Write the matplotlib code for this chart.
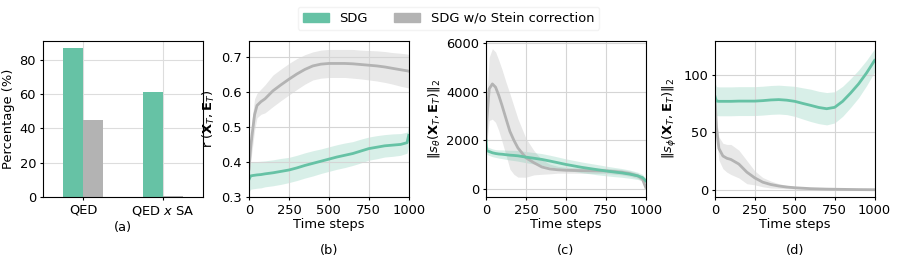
import numpy as np
import matplotlib
matplotlib.use('Agg')
import matplotlib.pyplot as plt
from matplotlib.patches import Patch

green = '#66c2a5'
gray = '#b3b3b3'

# (a) bar chart
tasks = ['QED', 'QED $x$ SA']
pct_sdg = [87, 61]
pct_nostein = [45, 0.8]

# (b) r(X_T, E_T)
t_b = [0, 10, 20, 35, 50, 75, 100, 150, 200, 250, 300, 350, 400, 450, 500, 550, 600, 650, 700, 750, 800, 850, 900, 950, 990, 1000]
b_sdg = [0.350, 0.360, 0.361, 0.362, 0.363, 0.364, 0.366, 0.369, 0.373, 0.377, 0.383, 0.390, 0.396, 0.402, 0.408, 0.414, 0.419, 0.424, 0.431, 0.438, 0.442, 0.446, 0.448, 0.450, 0.455, 0.476]
b_sdg_sd = [0.035, 0.038, 0.038, 0.038, 0.038, 0.038, 0.037, 0.037, 0.037, 0.036, 0.036, 0.036, 0.036, 0.035, 0.035, 0.035, 0.035, 0.034, 0.034, 0.033, 0.033, 0.032, 0.032, 0.031, 0.030, 0.028]
b_ns = [0.380, 0.440, 0.480, 0.535, 0.561, 0.572, 0.580, 0.603, 0.620, 0.636, 0.651, 0.664, 0.674, 0.679, 0.681, 0.681, 0.681, 0.680, 0.678, 0.676, 0.674, 0.671, 0.667, 0.663, 0.660, 0.659]
b_ns_sd = [0.020, 0.040, 0.045, 0.045, 0.035, 0.036, 0.040, 0.045, 0.045, 0.045, 0.044, 0.042, 0.040, 0.040, 0.040, 0.040, 0.040, 0.041, 0.041, 0.042, 0.043, 0.044, 0.045, 0.047, 0.048, 0.048]

# (c) ||s_theta||_2
t_c = [0, 5, 20, 40, 60, 80, 100, 125, 150, 175, 200, 250, 300, 350, 400, 450, 500, 600, 700, 750, 800, 850, 900, 950, 980, 1000]
c_sdg = [2000, 1580, 1540, 1490, 1460, 1440, 1430, 1410, 1392, 1380, 1365, 1311, 1265, 1216, 1150, 1081, 1010, 890, 790, 743, 700, 662, 610, 540, 470, 338]
c_sdg_sd = [100, 160, 160, 160, 160, 170, 180, 190, 200, 210, 220, 230, 235, 240, 240, 235, 230, 220, 210, 200, 190, 180, 170, 150, 130, 100]
c_ns = [2000, 2800, 4120, 4324, 4190, 3850, 3446, 2900, 2365, 2000, 1689, 1284, 1081, 905, 824, 790, 770, 755, 745, 743, 720, 689, 635, 540, 405, 68]
c_ns_sd = [300, 900, 1300, 1450, 1450, 1450, 1480, 1500, 1550, 1400, 1200, 800, 500, 300, 200, 140, 120, 110, 110, 110, 110, 110, 110, 110, 100, 60]

# (d) ||s_phi||_2
t_d = [0, 10, 25, 50, 75, 100, 150, 200, 250, 300, 350, 400, 450, 500, 550, 600, 650, 700, 750, 800, 850, 900, 950, 1000]
d_sdg = [81, 77, 76.8, 76.8, 76.8, 76.8, 77.0, 77.0, 77.0, 77.4, 78.0, 78.3, 77.8, 76.8, 75.0, 73.3, 71.5, 70.4, 71.6, 76.8, 84.0, 91.9, 101.4, 112.2]
d_sdg_sd = [12, 12.5, 12.5, 12.5, 12.5, 12.5, 12.5, 12.5, 12.5, 12.5, 12.5, 12.5, 12.5, 13, 13.5, 14, 14, 14, 13.5, 13, 12.5, 12, 11, 10]
d_ns = [81, 53.6, 36, 29.5, 27.5, 26.5, 22.5, 15.5, 10.5, 6.8, 4.8, 3.5, 2.6, 2.0, 1.6, 1.2, 1.0, 0.8, 0.7, 0.6, 0.5, 0.4, 0.35, 0.3]
d_ns_sd = [2, 8, 10, 11, 12, 13, 12, 10, 6, 4, 3, 2, 1.5, 1.2, 1, 0.8, 0.6, 0.5, 0.4, 0.3, 0.3, 0.2, 0.2, 0.2]

plt.rcParams['font.size'] = 9.4
plt.rcParams['xtick.major.size'] = 2.5
plt.rcParams['ytick.major.size'] = 2.5
plt.rcParams['xtick.major.pad'] = 2.5
plt.rcParams['ytick.major.pad'] = 2.5

fig = plt.figure(figsize=(8.97, 2.63), dpi=100)
lefts = [0.048, 0.2776, 0.5418, 0.797]
axs = [fig.add_axes([l, 0.251, 0.178, 0.593]) for l in lefts]

# panel a
ax = axs[0]
X = np.arange(len(tasks))
ax.bar(X - 0.125, pct_sdg, width=0.25, color=green)
ax.bar(X + 0.125, pct_nostein, width=0.25, color=gray)
ax.set_axisbelow(True)
ax.grid(True, color='#dddddd')
ax.set_xticks(X)
ax.set_xticklabels(tasks)
ax.set_xlim(-0.5, 1.5)
ax.set_ylim(0, 91)
ax.set_yticks([0, 20, 40, 60, 80])
ax.set_ylabel('Percentage (%)', labelpad=3)
ax.set_xlabel('(a)', labelpad=2)

panels = [
    (t_b, b_sdg, b_sdg_sd, b_ns, b_ns_sd, r'r $(\mathbf{X}_T, \mathbf{E}_T)$', (0.3, 0.745), [0.3, 0.4, 0.5, 0.6, 0.7], '(b)'),
    (t_c, c_sdg, c_sdg_sd, c_ns, c_ns_sd, r'$\|s_\theta(\mathbf{X}_T, \mathbf{E}_T)\|_2$', (-330, 6090), [0, 2000, 4000, 6000], '(c)'),
    (t_d, d_sdg, d_sdg_sd, d_ns, d_ns_sd, r'$\|s_\phi(\mathbf{X}_T, \mathbf{E}_T)\|_2$', (-6, 129), [0, 50, 100], '(d)'),
]

for ax, (t, m1, s1, m2, s2, ylab, ylim, yt, tag) in zip(axs[1:], panels):
    t = np.array(t)
    m1, s1, m2, s2 = map(np.array, (m1, s1, m2, s2))
    ax.fill_between(t, m2 - s2, m2 + s2, color=gray, alpha=0.3, linewidth=0)
    ax.fill_between(t, m1 - s1, m1 + s1, color=green, alpha=0.25, linewidth=0)
    ax.plot(t, m2, color=gray, lw=2)
    ax.plot(t, m1, color=green, lw=2)
    ax.grid(True, color='#d5d5d5')
    ax.set_xlim(0, 1000)
    ax.set_xticks([0, 250, 500, 750, 1000])
    ax.set_ylim(*ylim)
    ax.set_yticks(yt)
    ax.set_ylabel(ylab, labelpad=3)
    ax.set_xlabel('Time steps', labelpad=1)
    ax.text(0.5, -0.34, tag, transform=ax.transAxes, ha='center', va='center')

handles = [Patch(color=green), Patch(color=gray)]
fig.legend(handles, ['SDG', 'SDG w/o Stein correction'], loc='upper center',
           bbox_to_anchor=(0.5, 1.0), ncol=2, frameon=True, columnspacing=2.0,
           handlelength=2.0, edgecolor='#f0f0f0')

fig.savefig('out.png', dpi=100)
